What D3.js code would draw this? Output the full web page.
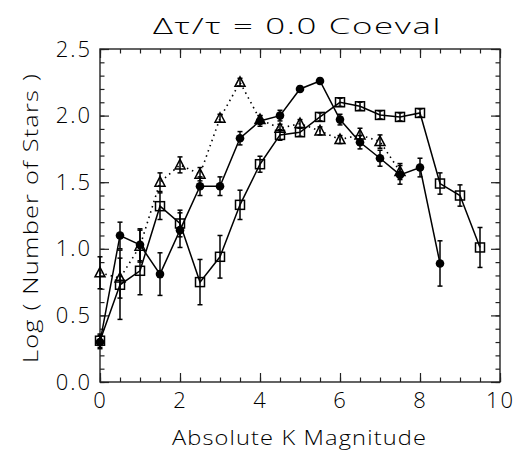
<!DOCTYPE html>
<meta charset="utf-8">
<style>
body { margin: 0; background: #fff; }
text { font-family: "Open Sans", sans-serif; font-weight: 300; fill: #000; }
.line { fill: none; stroke: #000; stroke-width: 1.5px; }
.dotline { fill: none; stroke: #000; stroke-width: 1.6px; stroke-dasharray: 1.5,4; }
.err { stroke: #000; stroke-width: 1.5px; }
.frame { fill: none; stroke: #222; stroke-width: 1.4px; }
.tick line { stroke: #222; stroke-width: 1.2px; }
</style>
<body>
<script src="https://d3js.org/d3.v7.min.js"></script>
<script>

// magnitudes (bin centres)
var mags = [0, 0.5, 1, 1.5, 2, 2.5, 3, 3.5, 4, 4.5, 5, 5.5, 6, 6.5, 7, 7.5, 8, 8.5, 9, 9.5];

// filled circles, solid line
var circleVals = [0.30, 1.10, 1.03, 0.81, 1.14, 1.47, 1.47, 1.83, 1.96, 2.00, 2.20, 2.26, 1.97, 1.80, 1.68, 1.555, 1.61, 0.89];
var circleErr  = [0.05, 0.10, 0.12, 0.16, 0.13, 0.07, 0.07, 0.05, 0.04, 0.04, 0.02, 0.02, 0.04, 0.05, 0.06, 0.07, 0.07, 0.17];

// open squares, solid line
var squareVals = [0.31, 0.73, 0.835, 1.32, 1.19, 0.75, 0.94, 1.33, 1.635, 1.855, 1.875, 1.99, 2.10, 2.07, 2.005, 1.99, 2.02, 1.49, 1.40, 1.01];
var squareErr  = [0.05, 0.26, 0.18, 0.10, 0.10, 0.17, 0.16, 0.11, 0.06, 0.04, 0.03, 0.03, 0.03, 0.03, 0.03, 0.03, 0.03, 0.08, 0.08, 0.15];

// open triangles, dotted line
var triVals = [0.82, 0.78, 1.02, 1.50, 1.63, 1.56, 1.98, 2.25, 1.97, 1.905, 1.94, 1.885, 1.82, 1.855, 1.805, 1.58];
var triErr  = [0.12, 0.15, 0.12, 0.07, 0.06, 0.05, 0.03, 0.03, 0.03, 0.03, 0.03, 0.03, 0.03, 0.05, 0.05, 0.06];

// tick labels
var xTicks = [0, 2, 4, 6, 8, 10];
var yTicks = [0.0, 0.5, 1.0, 1.5, 2.0, 2.5];

var margin = {top: 49, right: 17, bottom: 70, left: 100},
    width = 517 - margin.left - margin.right,
    height = 452 - margin.top - margin.bottom;

var x = d3.scaleLinear().domain([0, 10]).range([0, width]);
var y = d3.scaleLinear().domain([0, 2.5]).range([height, 0]);

var svg = d3.select("body").append("svg")
    .attr("width", 517)
    .attr("height", 452)
  .append("g")
    .attr("transform", "translate(" + margin.left + "," + margin.top + ")");

function series(vals, errs) {
  return vals.map(function(v, i) { return {m: mags[i], v: v, e: errs[i]}; });
}
var circles = series(circleVals, circleErr);
var squares = series(squareVals, squareErr);
var tris = series(triVals, triErr);

// axes: major + minor ticks on all four sides, pointing inward
var minorX = d3.range(0, 10.001, 0.5);
var minorY = d3.range(0, 2.5001, 0.1);

function styleAxis(g) {
  g.select(".domain").remove();
  g.selectAll("text").attr("font-family", null).attr("font-size", null)
    .style("font-size", "22px").style("letter-spacing", "2px");
}

svg.append("g").attr("transform", "translate(0," + height + ")")
    .call(d3.axisBottom(x).tickValues(minorX).tickSize(-4.5).tickFormat(""))
    .call(styleAxis);
svg.append("g").attr("transform", "translate(0," + height + ")")
    .call(d3.axisBottom(x).tickValues(xTicks).tickSize(-9).tickPadding(10).tickFormat(d3.format("d")))
    .call(styleAxis);
svg.append("g")
    .call(d3.axisTop(x).tickValues(minorX).tickSize(-4.5).tickFormat(""))
    .call(styleAxis);
svg.append("g")
    .call(d3.axisTop(x).tickValues(xTicks).tickSize(-9).tickFormat(""))
    .call(styleAxis);

svg.append("g")
    .call(d3.axisLeft(y).tickValues(minorY).tickSize(-4.5).tickFormat(""))
    .call(styleAxis);
svg.append("g")
    .call(d3.axisLeft(y).tickValues(yTicks).tickSize(-9).tickPadding(8).tickFormat(d3.format(".1f")))
    .call(styleAxis);
svg.append("g").attr("transform", "translate(" + width + ",0)")
    .call(d3.axisRight(y).tickValues(minorY).tickSize(-4.5).tickFormat(""))
    .call(styleAxis);
svg.append("g").attr("transform", "translate(" + width + ",0)")
    .call(d3.axisRight(y).tickValues(yTicks).tickSize(-9).tickFormat(""))
    .call(styleAxis);

svg.append("rect").attr("class", "frame")
    .attr("width", width).attr("height", height);

// lines
var valueline = d3.line()
    .x(function(d) { return x(d.m); })
    .y(function(d) { return y(d.v); });

svg.append("path").datum(circles).attr("class", "line").attr("d", valueline);
svg.append("path").datum(squares).attr("class", "line").attr("d", valueline);
svg.append("path").datum(tris).attr("class", "dotline").attr("d", valueline);

// error bars
function errorBars(data) {
  var g = svg.append("g");
  data.forEach(function(d) {
    var cx = x(d.m), y0 = y(d.v - d.e), y1 = y(d.v + d.e);
    g.append("line").attr("class", "err").attr("x1", cx).attr("x2", cx).attr("y1", y0).attr("y2", y1);
    g.append("line").attr("class", "err").attr("x1", cx - 2.5).attr("x2", cx + 2.5).attr("y1", y0).attr("y2", y0);
    g.append("line").attr("class", "err").attr("x1", cx - 2.5).attr("x2", cx + 2.5).attr("y1", y1).attr("y2", y1);
  });
}
errorBars(circles);
errorBars(squares);
errorBars(tris);

// symbols
svg.selectAll(".circ").data(circles).enter().append("circle")
    .attr("cx", function(d) { return x(d.m); })
    .attr("cy", function(d) { return y(d.v); })
    .attr("r", 4.3)
    .attr("fill", "#000");

svg.selectAll(".sq").data(squares).enter().append("rect")
    .attr("x", function(d) { return x(d.m) - 4.5; })
    .attr("y", function(d) { return y(d.v) - 4.5; })
    .attr("width", 9).attr("height", 9)
    .attr("fill", "none").attr("stroke", "#000").attr("stroke-width", 1.5);

svg.selectAll(".tri").data(tris).enter().append("path")
    .attr("d", function(d) {
      var cx = x(d.m), cy = y(d.v);
      return "M" + (cx - 5) + "," + (cy + 4) + "L" + (cx + 5) + "," + (cy + 4) + "L" + cx + "," + (cy - 5.5) + "Z";
    })
    .attr("fill", "none").attr("stroke", "#000").attr("stroke-width", 1.5);

// titles (stretched to the width of the original vector font)
svg.append("text")
    .attr("x", 153 - margin.left).attr("y", -15)
    .attr("textLength", 289).attr("lengthAdjust", "spacingAndGlyphs")
    .style("font-size", "22px").style("letter-spacing", "1px")
    .text("\u0394\u03c4/\u03c4 = 0.0 Coeval");

svg.append("text")
    .attr("x", 172 - margin.left).attr("y", height + 63)
    .attr("textLength", 255).attr("lengthAdjust", "spacingAndGlyphs")
    .style("font-size", "21px").style("letter-spacing", "1px")
    .text("Absolute K Magnitude");

svg.append("text")
    .attr("transform", "translate(" + (38 - margin.left) + "," + (363 - margin.top) + ") rotate(-90)")
    .attr("textLength", 290).attr("lengthAdjust", "spacingAndGlyphs")
    .style("font-size", "21px").style("letter-spacing", "1px")
    .text("Log ( Number of Stars )");

</script>
</body>
